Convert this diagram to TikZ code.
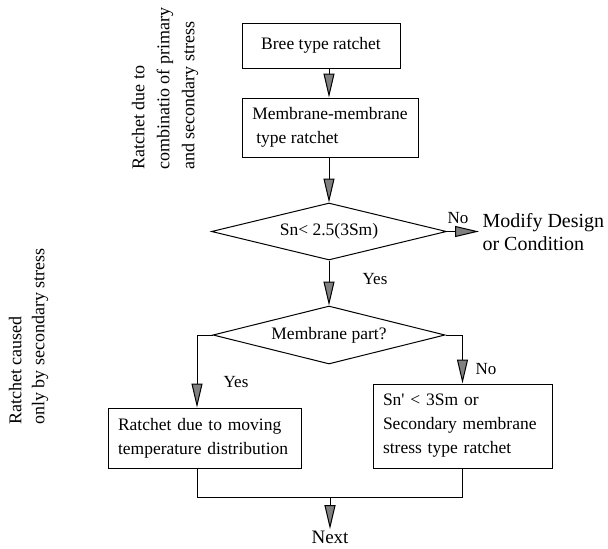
\documentclass[tikz,border=0pt]{standalone}
\usepackage{fontspec}
\setmainfont{Liberation Serif}
\usetikzlibrary{arrows.meta}
\usetikzlibrary{shapes.geometric}
\begin{document}
\begin{tikzpicture}[x=1pt,y=-1pt,line width=1pt,
    arr/.style={-{Triangle[length=24pt,width=11pt,fill=gray]}},
    box/.style={rectangle,draw,font=\fontsize{17.5}{24}\selectfont,inner ysep=2pt},
    test node/.style={diamond,draw,aspect=4,inner sep=0pt,font=\fontsize{17.5}{24}\selectfont},
    side note/.style={rotate=90,anchor=west,align=left,inner sep=2pt},
    small label/.style={font=\fontsize{17}{20}\selectfont,inner sep=0pt}]
   \useasboundingbox (0,0) rectangle (608,549);
   % side notes
   \node[side note,font=\fontsize{18}{25}\selectfont] (primsec) at (165,172) {Ratchet due to\\combinatio of primary\\and secondary stress};
   \node[side note,font=\fontsize{18}{23}\selectfont] (seconly) at (28.5,427) {Ratchet caused\\only by secondary stress};
   % boxes
   \node[box,minimum width=158pt,minimum height=45pt] (bree) at (321,45.5) {Bree type ratchet};
   \node[box,align=left,minimum width=176pt,minimum height=59pt] (mm) at (330,127.5) {Membrane-membrane\\\hspace*{4pt}type ratchet};
   \node[test node,minimum width=235pt,minimum height=57pt] (d1) at (329,231.5) {Sn< 2.5(3Sm)};
   \node[test node,minimum width=232pt,minimum height=58pt] (d2) at (329,335) {Membrane part?};
   \node[box,text width=173pt,inner xsep=10pt,align=left,minimum height=60pt] (moving) at (204.5,438) {Ratchet due to moving\\temperature distribution};
   \node[box,text width=159pt,inner xsep=10pt,align=left,minimum height=84pt] (secmem) at (462.5,426) {Sn\textquotesingle\ < 3Sm or\\Secondary membrane\\stress type ratchet};
   \node[anchor=west,align=left,inner sep=3pt,font=\fontsize{20}{23}\selectfont] (modify) at (479,232) {Modify Design\\or Condition};
   \node[font=\fontsize{19}{22}\selectfont,inner sep=1pt] (next) at (330,537) {Next};
   % yes / no
   \node[small label] (no1) at (458,218) {No};
   \node[small label] (yes1) at (375,279) {Yes};
   \node[small label] (yes2) at (236,382) {Yes};
   \node[small label] (no2) at (486,369) {No};
   \coordinate (lft) at (197,335);
   \coordinate (join) at (330,497);
   % connectors
   \path[arr] (bree.south -| d1.north) edge (mm.north -| d1.north);
   \path[arr] (mm.south -| d1.north) edge (d1.north);
   \path[arr] (d1.east) edge (d1.east -| modify.west);
   \path[arr] (d1.south) edge (d2.north);
   \draw[arr] (d2.west) -- (lft) -- (lft |- moving.north);
   \draw[arr] (d2.east) -| (secmem.north);
   \draw (lft |- moving.south) -- (lft |- join) -- (secmem.south |- join) -- (secmem.south);
   \path[arr] (join) edge (next.north);
\end{tikzpicture}
\end{document}
